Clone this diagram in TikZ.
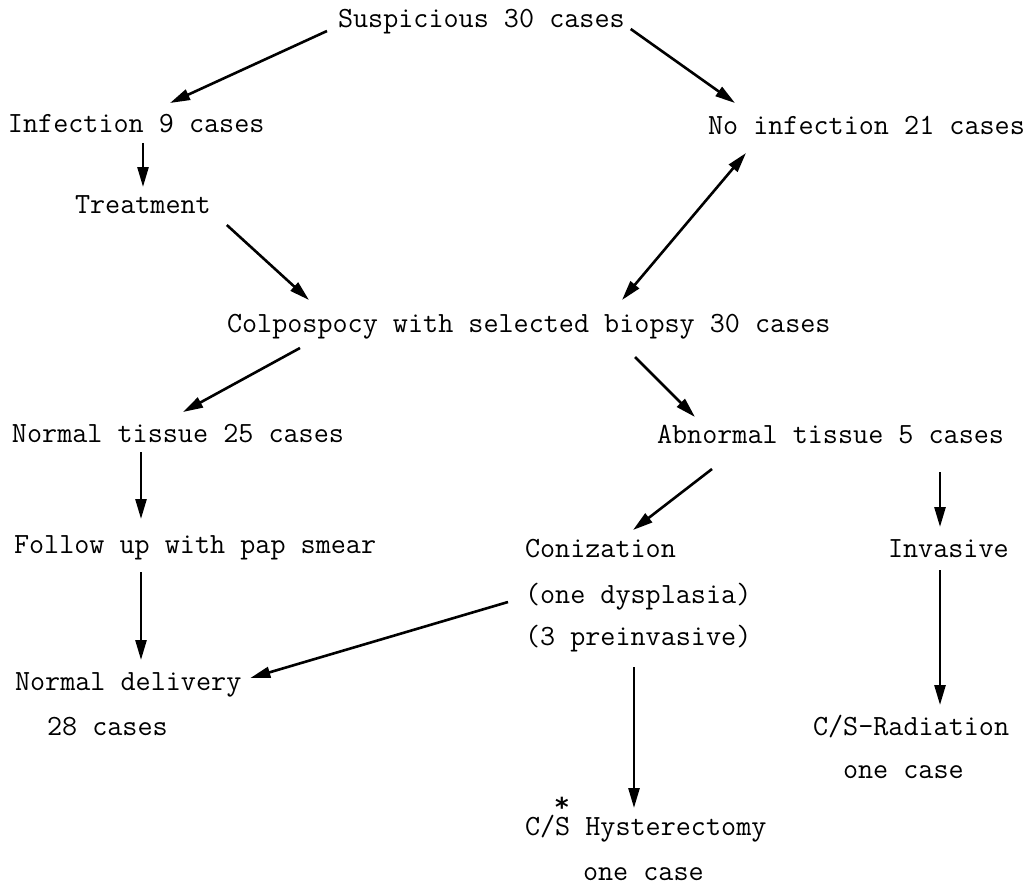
\documentclass[tikz,border=0pt]{standalone}
\usepackage{fontspec}
\newfontfamily\starfont{DejaVu Sans}
\usetikzlibrary{arrows.meta, calc}

\begin{document}
\begin{tikzpicture}[
  x=1pt, y=-1pt,
  lbl/.style={anchor=base west, inner sep=0pt, outer sep=0pt,
              text height=18pt, text depth=5pt,
              font=\ttfamily\fontsize{29.3}{34}\selectfont},
  arr/.style={-{Triangle[length=20pt, width=11pt]}, line width=2.6pt},
  dblarr/.style={{Triangle[length=20pt, width=11pt]}-{Triangle[length=20pt, width=11pt]}, line width=2.6pt},
]
  \useasboundingbox (0,0) rectangle (1033,888);

  % Screening
  \node[lbl] (susp) at (338, 28) {Suspicious 30 cases};
  \node[lbl] (inf) at (8, 133) {Infection 9 cases};
  \node[lbl] (noinf) at (708, 135) {No infection 21 cases};
  \node[lbl] (treat) at (75, 213) {Treatment};

  % Colposcopy
  \node[lbl] (colp) at (227, 332) {Colpospocy with selected biopsy 30 cases};
  \node[lbl] (normal) at (12, 442) {Normal tissue 25 cases};
  \node[lbl] (abn) at (657, 443) {Abnormal tissue 5 cases};

  % Normal branch
  \node[lbl] (follow) at (14, 553) {Follow up with pap smear};
  \node[lbl] (normdel) at (15, 690) {Normal delivery};
  \node[lbl] (normcases) at (47, 735) {28 cases};

  % Abnormal branch
  \node[lbl] (coniz) at (525, 557) {Conization};
  \node[lbl] (dysp) at (525, 603) {(one dysplasia)};
  \node[lbl] (prein) at (525, 645) {(3 preinvasive)};
  \node[lbl] (invas) at (888, 557) {Invasive};
  \node[lbl] (rad) at (813, 735) {C/S-Radiation};
  \node[lbl] (radone) at (843, 778) {one case};
  \node[lbl] (hyst) at (525, 835)
       {C/\makebox[0pt][l]{\raisebox{19pt}{\starfont\bfseries\fontsize{26}{26}\selectfont *}}S Hysterectomy};
  \node[lbl] (hystone) at (583, 880) {one case};

  % Connections
  \draw[arr] ($(susp.south west)+(-11,-2)$) -- ($(inf.north west)+(162,-12)$);
  \draw[arr] ($(susp.south east)+(6,-4)$) -- ($(noinf.north west)+(27,-14)$);
  \draw[arr] ($(inf.south west)+(135,5)$) -- ($(treat.north west)+(68,-8)$);
  \draw[arr] ($(treat.south east)+(16,7)$) -- ($(colp.north west)+(82,-14)$);
  \draw[dblarr] ($(noinf.south west)+(38,13)$) -- ($(colp.north west)+(395,-14)$);
  \draw[arr] ($(colp.south west)+(73,11)$) -- ($(normal.north west)+(171,-12)$);
  \draw[arr] ($(colp.south west)+(408,20)$) -- ($(abn.north west)+(38,-8)$);
  \draw[arr] ($(normal.south west)+(129,5)$) -- ($(follow.north west)+(127,-16)$);
  \draw[arr] ($(follow.south west)+(127,14)$) -- ($(normdel.north west)+(126,-12)$);
  \draw[arr] ($(abn.south west)+(55,21)$) -- ($(coniz.north west)+(108,-9)$);
  \draw[arr] ($(abn.south west)+(283,24)$) -- ($(invas.north west)+(52,-12)$);
  \draw[arr] ($(dysp.base west)+(-17,-1)$) -- ($(normdel.base east)+(9,-12)$);
  \draw[arr] ($(prein.south west)+(109,17)$) -- ($(hyst.north west)+(109,-9)$);
  \draw[arr] ($(invas.south west)+(52,8)$) -- ($(rad.north west)+(127,-12)$);
\end{tikzpicture}
\end{document}
